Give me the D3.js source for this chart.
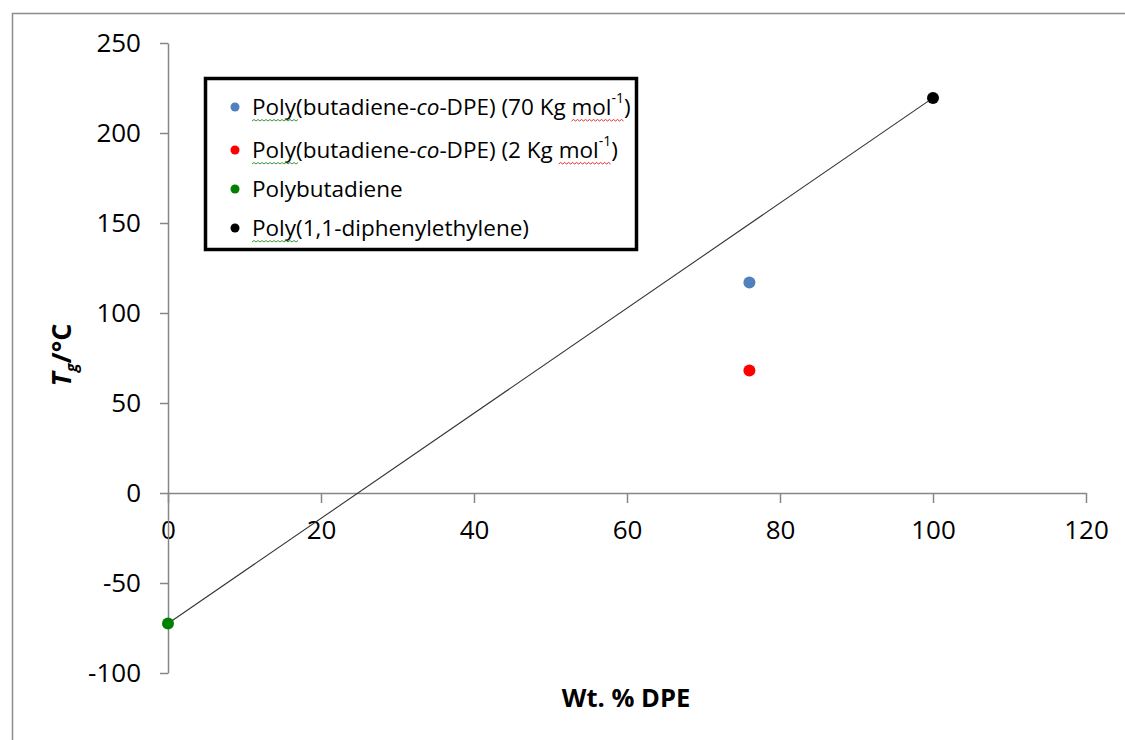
<!DOCTYPE html>
<html>
<head>
<meta charset="utf-8">
<script src="https://cdn.jsdelivr.net/npm/d3@7/dist/d3.min.js"></script>
<style>
  html, body { margin: 0; padding: 0; background: #fff; }
  svg { display: block; }
  text { font-family: "Open Sans", "Noto Sans", sans-serif; fill: #000; }
</style>
</head>
<body>
<svg id="chart" width="1125" height="740"></svg>
<script>
// ---- data ----
const seriesNames = [
  "Poly(butadiene-co-DPE) (70 Kg mol-1)",
  "Poly(butadiene-co-DPE) (2 Kg mol-1)",
  "Polybutadiene",
  "Poly(1,1-diphenylethylene)"
];
const seriesColors = ["#4F81BD", "#FF0000", "#008000", "#000000"];
const seriesX = [76, 76, 0, 100];
const seriesY = [117, 68, -72.5, 219.5];
const xTicks = [0, 20, 40, 60, 80, 100, 120];
const yTicks = [-100, -50, 0, 50, 100, 150, 200, 250];
const lineX = [0, 100];
const lineY = [-72.5, 219.5];
const xTitle = "Wt. % DPE";

// ---- layout ----
const svg = d3.select("#chart");
const x = d3.scaleLinear().domain([0, 120]).range([168, 1086]);
const y = d3.scaleLinear().domain([-100, 250]).range([673, 43]);

// outer frame (top & left visible)
svg.append("rect").attr("x", 12.5).attr("y", 13.5).attr("width", 1200).attr("height", 800)
  .attr("fill", "none").attr("stroke", "#8c8c8c").attr("stroke-width", 1.5);

const axisColor = "#868686";
const fmt = d => String(d);

const gx = svg.append("g").attr("transform", `translate(0,${y(0)})`)
  .call(d3.axisBottom(x).tickValues(xTicks).tickFormat(fmt).tickSize(10).tickSizeOuter(0).tickPadding(18));
const gy = svg.append("g").attr("transform", `translate(${x(0)},0)`)
  .call(d3.axisLeft(y).tickValues(yTicks).tickFormat(fmt).tickSize(8).tickSizeOuter(0).tickPadding(19));

[gx, gy].forEach(g => {
  g.select(".domain").attr("stroke", axisColor).attr("stroke-width", 1.5);
  g.selectAll(".tick line").attr("stroke", axisColor).attr("stroke-width", 1.5);
  g.selectAll(".tick text").attr("font-size", 26).attr("fill", "#000")
    .style("font-family", '"Open Sans", sans-serif');
});

// trend line
svg.append("line")
  .attr("x1", x(lineX[0])).attr("y1", y(lineY[0]))
  .attr("x2", x(lineX[1])).attr("y2", y(lineY[1]))
  .attr("stroke", "#333").attr("stroke-width", 1.1);

// points
svg.selectAll("circle.pt").data(seriesX.map((d, i) => i)).enter()
  .append("circle").attr("class", "pt")
  .attr("cx", i => x(seriesX[i])).attr("cy", i => y(seriesY[i]))
  .attr("r", 6).attr("fill", i => seriesColors[i]);

// axis titles
const yt = svg.append("text")
  .attr("transform", "translate(71,355) rotate(-90)")
  .attr("text-anchor", "middle").attr("font-size", 27).attr("font-weight", "bold");
yt.append("tspan").attr("font-style", "italic").text("T");
yt.append("tspan").attr("font-style", "italic").attr("font-size", 16).attr("dy", 6).text("g");
yt.append("tspan").attr("dy", -6).text("/°C");

svg.append("text").attr("x", 626).attr("y", 707).attr("text-anchor", "middle")
  .attr("font-size", 25.5).attr("font-weight", "bold").text(xTitle);

// legend
const legend = svg.append("g");
legend.append("rect").attr("x", 205.5).attr("y", 78.5).attr("width", 431).attr("height", 171)
  .attr("fill", "#fff").attr("stroke", "#000").attr("stroke-width", 3.5);

const rowY = [107, 150, 189, 228];
function squiggle(x0, x1, yy, color) {
  let d = `M${x0},${yy}`;
  let up = true;
  for (let xx = x0 + 2; xx <= x1; xx += 2) {
    d += `L${xx},${yy + (up ? -1.5 : 0)}`;
    up = !up;
  }
  legend.append("path").attr("d", d).attr("fill", "none").attr("stroke", color).attr("stroke-width", 1);
}

seriesNames.forEach((name, i) => {
  const cy = rowY[i];
  legend.append("circle").attr("cx", 235).attr("cy", cy).attr("r", 4.5).attr("fill", seriesColors[i]);
  const t = legend.append("text").attr("x", 252).attr("y", cy + 8).attr("font-size", 22.5);
  const m = name.match(/^(Poly\(butadiene-)(co)(-DPE\) \(\d+ Kg mol)(-1)(\))$/);
  if (m) {
    t.append("tspan").text(m[1]);
    t.append("tspan").attr("font-style", "italic").text(m[2]);
    t.append("tspan").text(m[3]);
    t.append("tspan").attr("font-size", 14).attr("dy", -12).text(m[4]);
    t.append("tspan").attr("dy", 12).text(m[5]);
  } else {
    t.text(name);
  }
  const node = t.node();
  const base = cy + 14;
  if (name.startsWith("Poly(")) {
    const w = node.getSubStringLength(0, 4);
    squiggle(252, 252 + w + 2, base, "#3a9a3a");
  }
  const k = name.indexOf("mol");
  if (k >= 0) {
    const s = node.getStartPositionOfChar(k).x;
    const e = node.getEndPositionOfChar(k + 4).x;
    squiggle(s, e, base, "#e03030");
  }
});
</script>
</body>
</html>
